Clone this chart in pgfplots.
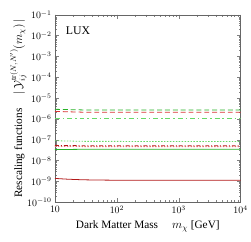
\documentclass[border=0pt]{standalone}
\usepackage{pgfplots}
\pgfplotsset{compat=1.18}
\usepackage{fontspec}
\setmainfont{Liberation Serif}
\definecolor{dred}{rgb}{0.7,0.1,0.1}
\definecolor{mred}{rgb}{0.85,0.2,0.2}
\definecolor{pinkr}{rgb}{0.92,0.45,0.45}
\definecolor{dgreen}{rgb}{0.15,0.7,0.15}
\definecolor{lgreen}{rgb}{0.4,0.85,0.4}
\begin{document}
\begin{tikzpicture}
\begin{axis}[
  scale only axis, width=189pt, height=191pt,
  xmode=log, ymode=log,
  xmin=10, xmax=10000, ymin=1e-10, ymax=1e-1,
  xtick={10,100,1000,10000},
  xticklabels={$10$,$10^2$,$10^3$,$10^4$},
  ytick={1e-10,1e-9,1e-8,1e-7,1e-6,1e-5,1e-4,1e-3,1e-2,1e-1},
  tick align=inside,
  major tick length=4pt, minor tick length=2pt,
  every tick/.style={gray},
  axis line style={gray!80!black},
  ticklabel style={font=\normalsize},
  label style={font=\fontsize{11.5}{13}\selectfont},
  xlabel={Dark Matter Mass \quad $m_\chi$ [GeV]},
  ylabel={Rescaling functions \quad $\bigl|\,\mathcal{Y}_{ij}^{\mathrm{tr}(N,N')}(m_\chi)\,\bigr|$},
  xlabel style={yshift=0pt},
  ylabel style={yshift=-6pt},
  every axis plot/.append style={line width=0.8pt},
  clip=true,
]
\addplot[dred] coordinates {(10,1.4e-9)(15,1.3e-9)(20,1.25e-9)(30,1.2e-9)(50,1.17e-9)(100,1.15e-9)(10000,1.15e-9)};
\addplot[dgreen] coordinates {(10,3.4e-8)(30,3.5e-8)(10000,3.5e-8)};
\addplot[pinkr, dash pattern=on 1.5pt off 1.5pt] coordinates {(10,4.8e-8)(30,4.7e-8)(10000,4.7e-8)};
\addplot[dred, dash pattern=on 4pt off 2pt on 1pt off 2pt] coordinates {(10,5.4e-8)(30,5.2e-8)(10000,5.2e-8)};
\addplot[lgreen, dash pattern=on 1.5pt off 1.5pt] coordinates {(10,9e-8)(30,8.4e-8)(10000,8.3e-8)};
\addplot[lgreen, dash pattern=on 5pt off 3pt on 1.5pt off 3pt] coordinates {(10,1.05e-6)(10000,1.05e-6)};
\addplot[mred, dash pattern=on 5pt off 3pt] coordinates {(10,2.3e-6)(30,2.1e-6)(10000,2.1e-6)};
\addplot[dgreen, dash pattern=on 5pt off 3pt] coordinates {(10,2.9e-6)(30,2.7e-6)(10000,2.7e-6)};
\node[anchor=north west, font=\fontsize{12}{14}\selectfont] at (rel axis cs:0.04,0.955) {LUX};
\end{axis}
\path (current axis.south west) +(-56pt,-40pt) (current axis.north east) +(6pt,15pt);
\end{tikzpicture}
\end{document}
